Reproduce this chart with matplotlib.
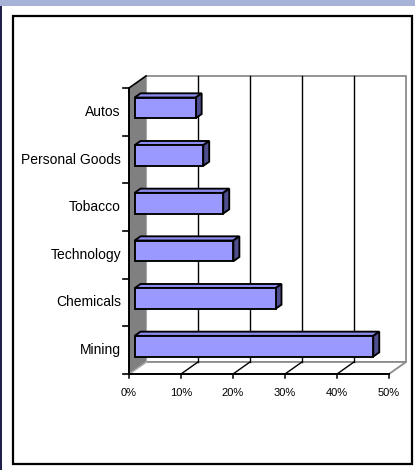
import matplotlib
matplotlib.use('Agg')
import matplotlib.pyplot as plt
from matplotlib.patches import Polygon, Rectangle

# data (bottom to top, as drawn)
sectors = ['Mining', 'Chemicals', 'Technology', 'Tobacco', 'Personal Goods', 'Autos']
weights = [45.9, 27.1, 19.0, 17.05, 13.2, 11.75]
x_ticks = [0, 10, 20, 30, 40, 50]
x_labels = ['0%', '10%', '20%', '30%', '40%', '50%']

plt.rcParams['font.family'] = ['Liberation Sans', 'DejaVu Sans']

W, H = 415, 470
fig = plt.figure(figsize=(W / 100, H / 100), dpi=100)
fig.patch.set_facecolor('white')

# frame decorations (pixel positions -> figure fraction)
def px(x, y):
    return x / W, 1 - y / H

fig.patches.append(Rectangle(px(0, 5.5), 1, 5.5 / H, transform=fig.transFigure,
                             facecolor='#A6B2D8', edgecolor='none'))
fig.patches.append(Rectangle(px(0, H), 2 / W, (H - 5.5) / H, transform=fig.transFigure,
                             facecolor='#20204a', edgecolor='none'))
x0, y0 = px(13, 464)
fig.patches.append(Rectangle((x0, y0), 399 / W, 448 / H, transform=fig.transFigure,
                             facecolor='none', edgecolor='black', lw=1.6))

# axes placed on the front plane of the 3D box
ax = fig.add_axes([129 / W, 96 / H, 260 / W, 286 / H])
ax.set_xlim(0, 50)
ax.set_ylim(0, 6)
ax.axis('off')

DX = 3.27   # depth offset in x (percent units)
DY = 0.252  # depth offset in y (category units)
n = len(sectors)
xmax = x_ticks[-1]
wall_gray = '#808080'
edge_gray = '#8c8c8c'

# back wall
ax.add_patch(Rectangle((DX, DY), xmax, n, facecolor='white', edgecolor=edge_gray,
                       lw=1.3, clip_on=False, zorder=1))
# floor
ax.add_patch(Polygon([(0, 0), (xmax, 0), (xmax + DX, DY), (DX, DY)], closed=True,
                     facecolor='white', edgecolor=edge_gray, lw=1.3, clip_on=False, zorder=1))

# gridlines on wall and floor, ticks below the axis
for t in x_ticks:
    if 0 < t < xmax:
        ax.plot([t + DX, t + DX], [DY, n + DY], color='black', lw=1.0, clip_on=False, zorder=2)
        ax.plot([t, t + DX], [0, DY], color='black', lw=1.0, clip_on=False, zorder=2)
    ax.plot([t, t], [0, -0.09], color='black', lw=1.1, clip_on=False, zorder=4)

# left side wall
ax.add_patch(Polygon([(0, 0), (DX, DY), (DX, n + DY), (0, n)], closed=True,
                     facecolor=wall_gray, edgecolor='none', clip_on=False, zorder=3))
ax.plot([DX, DX], [DY, n + DY], color='#a8a8a8', lw=0.8, clip_on=False, zorder=3)
ax.plot([0, DX], [0, DY], color='#b0b0b0', lw=0.8, clip_on=False, zorder=3)
ax.plot([0, DX], [n, n + DY], color='black', lw=1.2, clip_on=False, zorder=4)

# axis lines and category ticks
ax.plot([0, xmax], [0, 0], color='black', lw=1.4, clip_on=False, zorder=4)
ax.plot([0, 0], [0, n], color='black', lw=1.4, clip_on=False, zorder=4)
for k in range(n + 1):
    ax.plot([-1.15, 0], [k, k], color='black', lw=1.2, clip_on=False, zorder=4)

# 3D bars
d0, d1 = 0.33, 0.68
h = 0.217
front_c, top_c, side_c = '#9999FF', '#8C8CF0', '#4F4F8F'
for i in range(n - 1, -1, -1):
    v = weights[i]
    c = i + 0.5
    lo = c - h
    hi = c + h
    front = [(d0 * DX, lo + d0 * DY), (v + d0 * DX, lo + d0 * DY),
             (v + d0 * DX, hi + d0 * DY), (d0 * DX, hi + d0 * DY)]
    top = [(d0 * DX, hi + d0 * DY), (v + d0 * DX, hi + d0 * DY),
           (v + d1 * DX, hi + d1 * DY), (d1 * DX, hi + d1 * DY)]
    side = [(v + d0 * DX, lo + d0 * DY), (v + d1 * DX, lo + d1 * DY),
            (v + d1 * DX, hi + d1 * DY), (v + d0 * DX, hi + d0 * DY)]
    for poly, col in [(top, top_c), (side, side_c), (front, front_c)]:
        ax.add_patch(Polygon(poly, closed=True, facecolor=col, edgecolor='black',
                             lw=1.35, joinstyle='miter', clip_on=False, zorder=5))
    ax.text(-1.55, c, sectors[i], ha='right', va='center', fontsize=10,
            color='black', zorder=6)

for t, lab in zip(x_ticks, x_labels):
    ax.text(t, -0.4, lab, ha='center', va='center', fontsize=8, color='black')

fig.savefig('out.png', dpi=100)
